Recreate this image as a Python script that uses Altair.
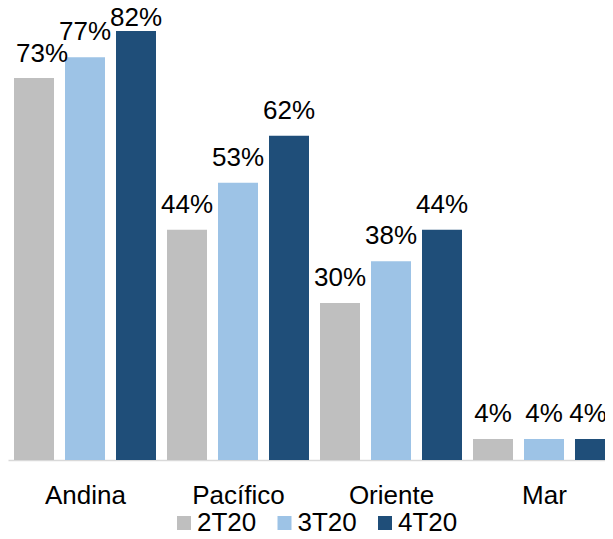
import json
import altair as alt
import pandas as pd

categories = ["Andina", "Pacífico", "Oriente", "Mar"]
series = ["2T20", "3T20", "4T20"]
v_2T20 = [0.73, 0.44, 0.30, 0.04]
v_3T20 = [0.77, 0.53, 0.38, 0.04]
v_4T20 = [0.82, 0.62, 0.44, 0.04]
colors = ["#BFBFBF", "#9DC3E6", "#1F4E79"]

rows = []
for si, (s, vals) in enumerate(zip(series, [v_2T20, v_3T20, v_4T20])):
    for ci, (c, v) in enumerate(zip(categories, vals)):
        rows.append({"cat": c, "ci": ci, "serie": s, "si": si, "val": v})
df = pd.DataFrame(rows)

FONT = "Liberation Sans"
FS = 26
STEP = 51 / 153
HALF = 20 / 153

x_scale = alt.Scale(domain=[-0.5033, 3.3987], nice=False, zero=False)
label_expr = json.dumps(categories) + "[datum.value]"
x_axis = alt.Axis(title=None, values=[0, 1, 2, 3], labelExpr=label_expr,
                  grid=False, ticks=False, tickSize=0, labelPadding=22,
                  labelFontSize=FS, labelFont=FONT, labelColor="#000000",
                  domainColor="#D9D9D9", domainWidth=1.5, labelBaseline="top",
                  labelFlush=False, labelOverlap=False)

base = alt.Chart(df).transform_calculate(
    xpos=f"datum.ci + (datum.si - 1) * {STEP}",
    xlo=f"datum.ci + (datum.si - 1) * {STEP} - {HALF}",
    xhi=f"datum.ci + (datum.si - 1) * {STEP} + {HALF}",
)

y_enc = alt.Y("val:Q", scale=alt.Scale(domain=[0, 0.864]), axis=None)

bars = base.mark_rect().encode(
    x=alt.X("xlo:Q", scale=x_scale, axis=x_axis),
    x2="xhi:Q",
    y=y_enc,
    y2=alt.Y2(datum=0),
    color=alt.Color("serie:N", sort=series,
                    scale=alt.Scale(domain=series, range=colors),
                    legend=alt.Legend(title=None, orient="none", direction="horizontal",
                                      legendX=163, legendY=502, symbolType="square",
                                      symbolSize=196, symbolStrokeWidth=0,
                                      labelFontSize=FS, labelFont=FONT,
                                      labelColor="#000000", labelOffset=0,
                                      columnPadding=14.5, padding=0)),
)

txt_kw = dict(font=FONT, fontSize=FS, baseline="alphabetic", align="center", color="#000000")
tx = alt.X("xpos:Q", scale=x_scale, axis=x_axis)
special = ("(datum.cat == 'Andina' && (datum.serie == '2T20' || datum.serie == '4T20'))"
           " || (datum.cat == 'Mar' && datum.serie == '4T20')")

text_main = base.mark_text(dy=-17, **txt_kw).encode(
    x=tx, y=y_enc, text=alt.Text("val:Q", format=".0%")
).transform_filter("!(" + special + ")")
text_a1 = base.mark_text(dy=-16, dx=8, **txt_kw).encode(
    x=tx, y=y_enc, text=alt.Text("val:Q", format=".0%")
).transform_filter("datum.cat == 'Andina' && datum.serie == '2T20'")
text_a3 = base.mark_text(dy=-5, **txt_kw).encode(
    x=tx, y=y_enc, text=alt.Text("val:Q", format=".0%")
).transform_filter("datum.cat == 'Andina' && datum.serie == '4T20'")
text_m3 = base.mark_text(dy=-17, dx=-7, **txt_kw).encode(
    x=tx, y=y_enc, text=alt.Text("val:Q", format=".0%")
).transform_filter("datum.cat == 'Mar' && datum.serie == '4T20'")

chart = alt.layer(bars, text_main, text_a1, text_a3, text_m3).properties(
    width=597, height=452,
    autosize=alt.AutoSizeParams(type="none"),
    padding={"left": 0, "top": 0, "right": 0, "bottom": 71},
).configure(background="#FFFFFF").configure_view(stroke=None)

chart.save("out.html", embed_options={"renderer": "svg", "actions": False})
